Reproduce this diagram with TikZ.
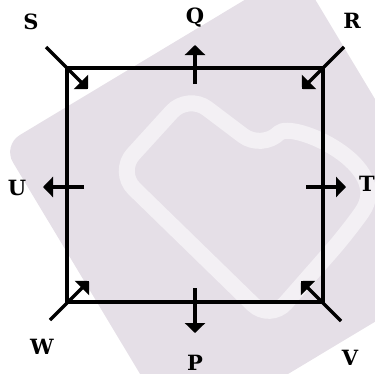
\documentclass[tikz,border=0pt]{standalone}
\usepackage{fontspec}
\setmainfont{DejaVu Serif}
\usetikzlibrary{arrows.meta}
\definecolor{wmfill}{RGB}{229,223,231}
\definecolor{wmline}{RGB}{243,240,244}

\begin{document}
\begin{tikzpicture}[scale=0.035146]
\tikzstyle{every node}+=[inner sep=0pt, font=\fontsize{21}{25}\selectfont\bfseries]
\tikzstyle{arr}=[black, line width=3.2pt, -{Triangle[length=10pt,width=20pt]}]
\useasboundingbox (0,0) rectangle (375,-374);
\fill [wmfill, rounded corners=20pt, rotate around={31:(238,-204)}] (66.5,-375.5) rectangle (409.5,-32.5);
\draw [wmline, line width=16pt, rounded corners=24pt] (348,-232) .. controls (395,-165) and (292,-120) .. (262,-150) -- (188,-94) -- (117,-172) -- (270,-321) -- cycle;
\coordinate (c1) at (67,-68);
\coordinate (c2) at (323,-68);
\coordinate (c3) at (323,-302);
\coordinate (c4) at (67,-302);
\draw [black, line width=3.2pt] (c1) -- (c2) -- (c3) -- (c4) -- cycle;
\coordinate (s0) at (46,-47);
\coordinate (s1) at (88,-89);
\coordinate (r0) at (344,-47);
\coordinate (r1) at (302,-89);
\coordinate (v0) at (341,-321);
\coordinate (v1) at (301,-281);
\coordinate (w0) at (50,-320);
\coordinate (w1) at (89,-281);
\coordinate (q0) at (195,-84);
\coordinate (q1) at (195,-45);
\coordinate (u0) at (84,-187);
\coordinate (u1) at (43,-187);
\coordinate (t0) at (306,-187);
\coordinate (t1) at (346,-187);
\coordinate (p0) at (195,-288);
\coordinate (p1) at (195,-333);
\draw [arr] (s0) -- (s1);
\draw [arr] (r0) -- (r1);
\draw [arr] (v0) -- (v1);
\draw [arr] (w0) -- (w1);
\draw [arr] (q0) -- (q1);
\draw [arr] (u0) -- (u1);
\draw [arr] (t0) -- (t1);
\draw [arr] (p0) -- (p1);
\draw (31,-29) node [anchor=base] (S) {S};
\draw (195,-24) node [anchor=base] (Q) {Q};
\draw (352,-28) node [anchor=base] (R) {R};
\draw (17,-196) node [anchor=base] (U) {U};
\draw (367,-191) node [anchor=base] (T) {T};
\draw (42,-354) node [anchor=base] (W) {W};
\draw (195,-370) node [anchor=base] (P) {P};
\draw (350,-365) node [anchor=base] (V) {V};
\end{tikzpicture}
\end{document}
